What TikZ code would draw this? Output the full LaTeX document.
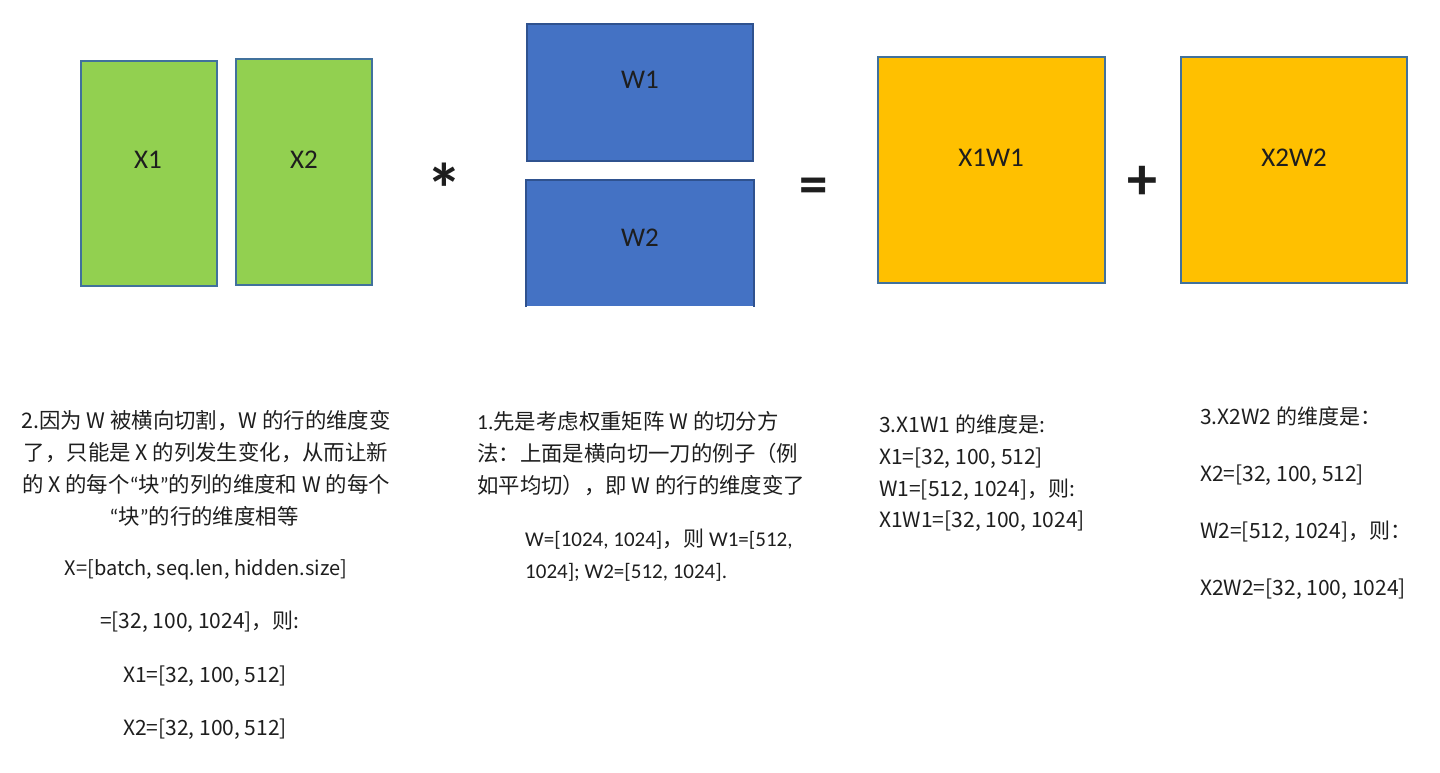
\documentclass[tikz,border=0pt]{standalone}
\usepackage{fontspec}
\setmainfont{Carlito}
\newfontfamily\cjk{Noto Sans CJK SC}
\newcommand{\myoq}{{\fontspec{Carlito}“}}
\newcommand{\mycq}{{\fontspec{Carlito}”}}
\definecolor{xgreen}{HTML}{92D050}
\definecolor{wblue}{HTML}{4472C4}
\definecolor{wborder}{HTML}{2F528F}
\definecolor{ryellow}{HTML}{FFC000}
\definecolor{sborder}{HTML}{41719C}
\definecolor{ink}{HTML}{1E1E1E}
\tikzset{
  mat/.style={rectangle, inner sep=0pt, line width=2pt},
  xmat/.style={mat, draw=sborder, fill=xgreen},
  wmat/.style={mat, draw=wborder, fill=wblue},
  rmat/.style={mat, draw=sborder, fill=ryellow},
  boxlabel/.style={inner sep=0pt, text=ink, font=\fontsize{27}{32}\selectfont},
  opsym/.style={inner sep=0pt, text=ink, font=\bfseries\fontsize{#1}{60}\selectfont},
  txt/.style={inner sep=0pt, text=ink, font=\cjk\fontsize{21.4}{24}\selectfont, anchor=base},
  ntxt/.style={txt, font=\cjk\fontsize{21}{24}\selectfont},
  ltxt/.style={txt, anchor=base west},
  lntxt/.style={ntxt, anchor=base west},
  ctxt/.style={inner sep=0pt, text=ink, font=\fontsize{21}{24}\selectfont, anchor=base west},
}
\begin{document}
\begin{tikzpicture}[x=1pt,y=-1pt]
\useasboundingbox[fill=white] (0,0) rectangle (1440,772);

% matrices
\node[xmat, minimum width=136pt, minimum height=225pt] (x1) at (149,173.5) {};
\node[xmat, minimum width=136pt, minimum height=226pt] (x2) at (304,172) {};
\node[wmat, minimum width=226pt, minimum height=137pt] (w1) at (640,92.5) {};
\node[mat, fill=wblue, minimum width=226pt, minimum height=125pt] (w2) at (640,243.5) {};
\draw[line width=2pt, draw=wborder] (w2.south west) -- (w2.north west) -- (w2.north east) -- (w2.south east);
\node[rmat, minimum width=227pt, minimum height=226pt] (r1) at (991,170) {};
\node[rmat, minimum width=226pt, minimum height=226pt] (r2) at (1294,170) {};

% labels
\node[boxlabel] (x1l) at (148,160) {X1};
\node[boxlabel] (x2l) at (304,160) {X2};
\node[boxlabel] (w1l) at (640,80) {W1};
\node[boxlabel] (w2l) at (640,238) {W2};
\node[boxlabel] (r1l) at (991,158) {X1W1};
\node[boxlabel] (r2l) at (1294,158) {X2W2};

% operators
\node[opsym=72] (times) at (444,189) {*};
\node[opsym=57] (eq) at (814,190.5) {=};
\node[opsym=60] (plus) at (1142,182.5) {+};

% block 2 (left)
\node[txt] (b2a) at (206,428) {2.因为 W 被横向切割，W 的行的维度变};
\node[txt] (b2b) at (206,460) {了，只能是 X 的列发生变化，从而让新};
\node[txt] (b2c) at (206,492) {的 X 的每个\myoq 块\mycq 的列的维度和 W 的每个};
\node[txt] (b2d) at (204,524) {\myoq 块\mycq 的行的维度相等};
\node[txt, font=\cjk\fontsize{20}{24}\selectfont] (b2e) at (206,575) {X=[batch, seq.len, hidden.size]};
\node[ntxt] (b2f) at (200,628) {=[32, 100, 1024]，则:};
\node[ntxt] (b2g) at (205,682) {X1=[32, 100, 512]};
\node[ntxt] (b2h) at (205,735) {X2=[32, 100, 512]};

% block 1 (middle)
\node[ltxt] (b1a) at (477,429) {{\fontspec{Carlito}1.}先是考虑权重矩阵 W 的切分方};
\node[ltxt] (b1b) at (477,461) {法：上面是横向切一刀的例子（例};
\node[ltxt] (b1c) at (477,493) {如平均切），即 W 的行的维度变了};
\node[ctxt] (b1d) at (525,546) {W=[1024, 1024]{\cjk ，则} W1=[512,};
\node[ctxt] (b1e) at (525,578) {1024]; W2=[512, 1024].};

% block 3
\node[lntxt] (b3a) at (879,432) {3.X1W1 的维度是:};
\node[lntxt] (b3b) at (879,464) {X1=[32, 100, 512]};
\node[lntxt] (b3c) at (879,496) {W1=[512, 1024]，则:};
\node[lntxt] (b3d) at (879,527) {X1W1=[32, 100, 1024]};

% block 4
\node[lntxt] (b4a) at (1200,424) {3.X2W2 的维度是：};
\node[lntxt] (b4b) at (1200,481) {X2=[32, 100, 512]};
\node[lntxt] (b4c) at (1200,538) {W2=[512, 1024]，则：};
\node[lntxt] (b4d) at (1200,595) {X2W2=[32, 100, 1024]};
\end{tikzpicture}
\end{document}
